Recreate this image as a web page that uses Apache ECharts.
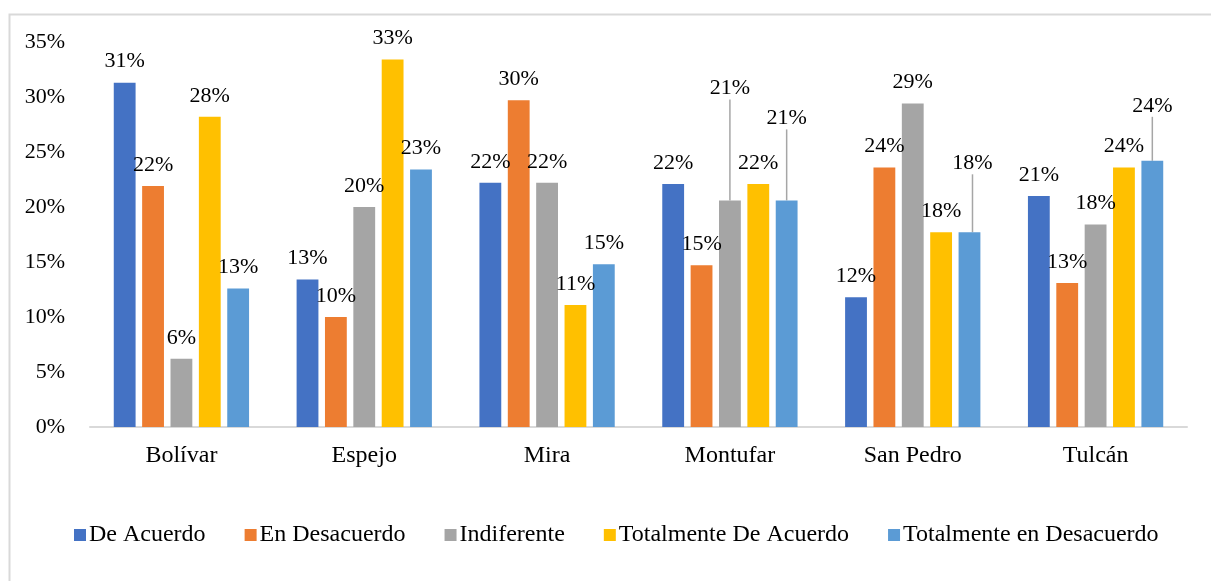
<!DOCTYPE html>
<html>
<head>
<meta charset="utf-8">
<script src="https://cdn.jsdelivr.net/npm/echarts@6/dist/echarts.min.js"></script>
<style>
html,body{margin:0;padding:0;background:#fff;}
#chart{width:1211px;height:581px;}
</style>
</head>
<body>
<div id="chart"></div>
<script>
const categories = ['Bolívar', 'Espejo', 'Mira', 'Montufar', 'San Pedro', 'Tulcán'];
const seriesNames = ['De Acuerdo', 'En Desacuerdo', 'Indiferente', 'Totalmente De Acuerdo', 'Totalmente en Desacuerdo'];
const deAcuerdo = [31.3, 13.4, 22.2, 22.1, 11.8, 21.0];
const enDesacuerdo = [21.9, 10.0, 29.7, 14.7, 23.6, 13.1];
const indiferente = [6.2, 20.0, 22.2, 20.6, 29.4, 18.4];
const totalmenteDeAcuerdo = [28.2, 33.4, 11.1, 22.1, 17.7, 23.6];
const totalmenteEnDesacuerdo = [12.6, 23.4, 14.8, 20.6, 17.7, 24.2];
const yTicks = [0, 5, 10, 15, 20, 25, 30, 35];

const colors = ['#4472C4', '#ED7D31', '#A5A5A5', '#FFC000', '#5B9BD5'];
const allValues = [deAcuerdo, enDesacuerdo, indiferente, totalmenteDeAcuerdo, totalmenteEnDesacuerdo];

// moved labels (series index, category index) -> offset, with leader lines
const labelMoves = {
  '2-3': {dx: 0, dy: -91},
  '4-3': {dx: 0, dy: -61},
  '4-4': {dx: 3, dy: -48},
  '4-5': {dx: 0, dy: -34}
};

const font = 'Liberation Serif, Times New Roman, serif';

const chart = echarts.init(document.getElementById('chart'));
chart.setOption({
  animation: false,
  color: colors,
  graphic: [{
    type: 'rect', left: 7, top: 12, silent: true, z: -10,
    shape: {x: 0, y: 0, width: 1240, height: 620},
    style: {fill: 'none', stroke: '#d9d9d9', lineWidth: 2}
  }],
  grid: {left: 90, right: 24, top: 42, bottom: 154},
  legend: {
    bottom: 29, left: 69,
    itemWidth: 12, itemHeight: 12, itemGap: 39,
    icon: 'rect',
    textStyle: {fontFamily: font, fontSize: 24, color: '#000', padding: [0, 0, 0, -2]},
    data: seriesNames
  },
  xAxis: {
    type: 'category', data: categories,
    axisLine: {lineStyle: {color: '#d9d9d9', width: 2}},
    axisTick: {show: false},
    axisLabel: {fontFamily: font, fontSize: 24, color: '#000', margin: 17}
  },
  yAxis: {
    type: 'value', min: 0, max: yTicks[yTicks.length - 1], interval: 5,
    splitLine: {show: false},
    axisLine: {show: false}, axisTick: {show: false},
    axisLabel: {fontFamily: font, fontSize: 22, color: '#000', margin: 25, formatter: '{value}%'}
  },
  series: seriesNames.map((name, s) => ({
    name: name,
    type: 'bar',
    barGap: '30%',
    barCategoryGap: '26%',
    data: allValues[s].map((v, i) => labelMoves[s + '-' + i]
      ? {value: v, labelLine: {show: true, lineStyle: {color: '#a6a6a6', width: 1.5}}}
      : v),
    label: {
      show: true, position: 'top', distance: 10,
      fontFamily: font, fontSize: 22, color: '#000',
      formatter: p => Math.round(p.value) + '%'
    },
    labelLine: {show: false, lineStyle: {color: '#a6a6a6', width: 1.5}},
    labelLayout: p => {
      const m = labelMoves[p.seriesIndex + '-' + p.dataIndex];
      return m ? {dx: m.dx, dy: m.dy} : {};
    }
  }))
});
</script>
</body>
</html>
